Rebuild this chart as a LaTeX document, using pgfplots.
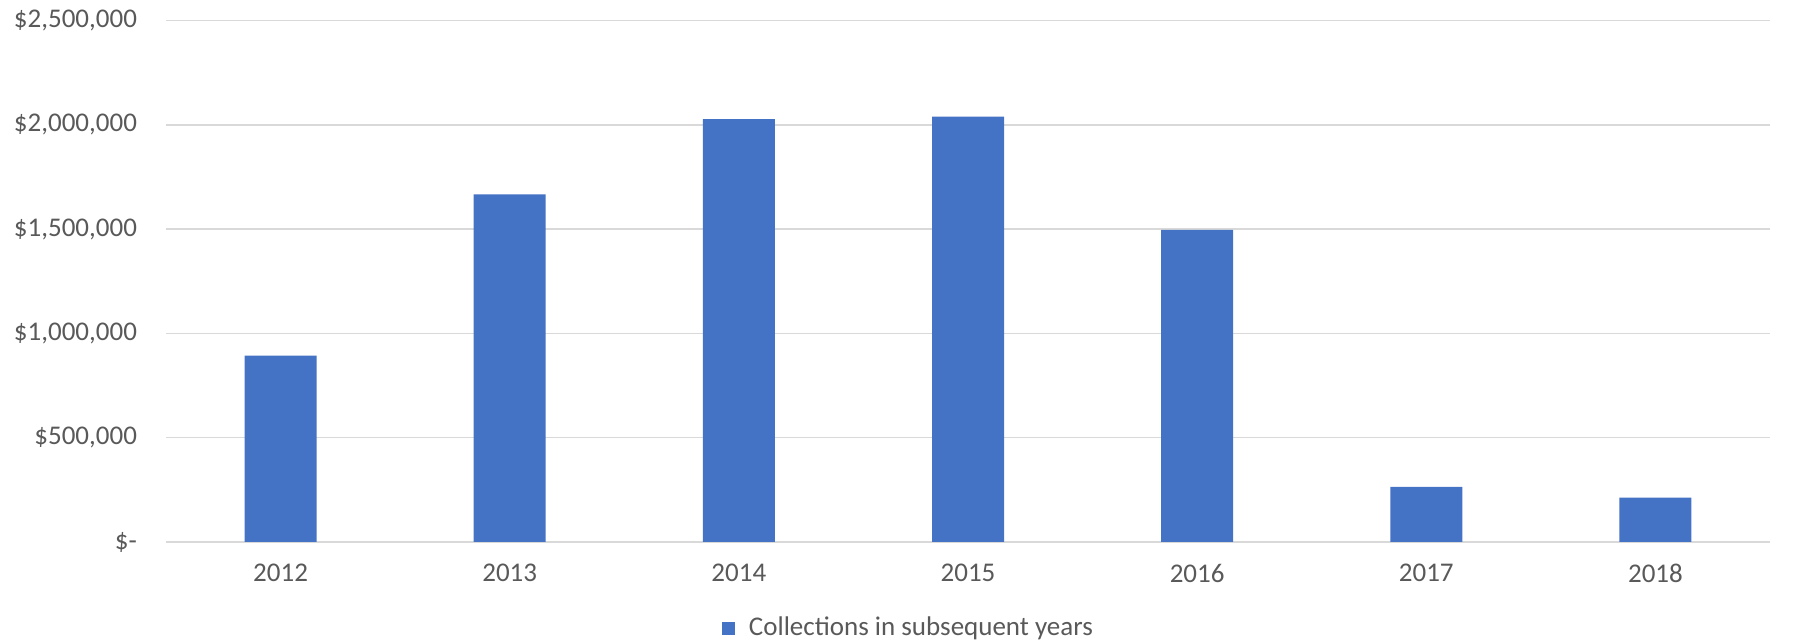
\documentclass[border=0pt]{standalone}
\usepackage{pgfplots}
\pgfplotsset{compat=1.18}
\usepackage{fontspec}
\setmainfont{Carlito}
\definecolor{barblue}{HTML}{4472C4}
\definecolor{gridgray}{HTML}{D9D9D9}
\definecolor{textgray}{HTML}{595959}
\begin{document}
\begin{tikzpicture}
\path[use as bounding box] (0,0) rectangle (896.5pt,321pt);
\begin{axis}[
  at={(83pt,50pt)}, anchor=south west,
  scale only axis, width=802pt, height=260.7pt,
  ybar, bar width=36pt,
  xmin=-0.5, xmax=6.5, ymin=0, ymax=2500000,
  xtick={0,1,2,3,4,5,6},
  xticklabels={2012,2013,2014,2015,2016,2017,2018},
  ytick={0,500000,1000000,1500000,2000000,2500000},
  yticklabels={{\$-},{\$500,000},{\$1,000,000},{\$1,500,000},{\$2,000,000},{\$2,500,000}},
  scaled y ticks=false,
  major tick length=0pt,
  ymajorgrids, grid style={gridgray, line width=0.75pt},
  axis lines*=left,
  y axis line style={draw=none},
  x axis line style={gridgray, line width=0.75pt, -},
  ticklabel style={font=\fontsize{13.5}{16}\selectfont, text=textgray},
  yticklabel style={xshift=-11pt},
  xticklabel style={yshift=-7.5pt},
  legend style={at={(0.4635,-0.165)}, anchor=center, draw=none,
    font=\fontsize{13.5}{16}\selectfont, text=textgray,
    legend columns=1},
  legend image code/.code={\fill[barblue] (0pt,-3.25pt) rectangle (6.5pt,3.25pt); \path (11.5pt,0pt);},
]
\addplot[fill=barblue, draw=none] coordinates {
  (0,894000) (1,1667000) (2,2028000) (3,2039000) (4,1497000) (5,264000) (6,213000)
};
\legend{Collections in subsequent years}
\end{axis}
\end{tikzpicture}
\end{document}
